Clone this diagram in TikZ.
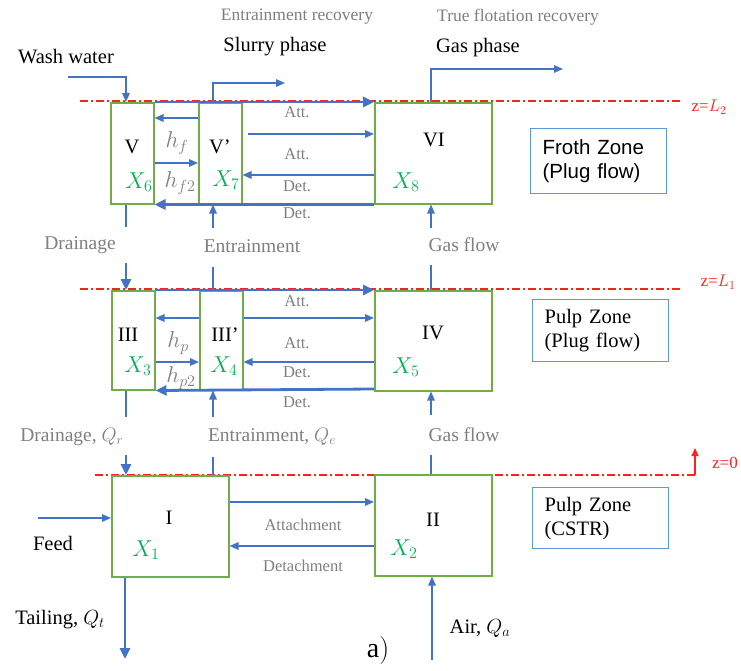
\RequirePackage{fix-cm}
\documentclass[tikz,border=0pt]{standalone}
\usepackage{fontspec}
\setmainfont{Liberation Serif}
\setsansfont{Liberation Sans}
\usetikzlibrary{arrows.meta}
\definecolor{ablue}{HTML}{4472C4}
\definecolor{bgreen}{HTML}{70AD47}
\definecolor{tgreen}{HTML}{00B050}
\definecolor{zred}{HTML}{FF2020}
\definecolor{zboxc}{HTML}{5B9BD5}
\definecolor{lgrey}{HTML}{7F7F7F}
\newcommand{\szBlack}{\fontsize{20.5}{24}\selectfont}
\newcommand{\szMath}{\fontsize{23}{26}\selectfont}
\newcommand{\szGreyA}{\fontsize{17.5}{20}\selectfont}
\newcommand{\szGreyB}{\fontsize{19.5}{22}\selectfont}
\newcommand{\szSmall}{\fontsize{16.5}{19}\selectfont}
\newcommand{\szRed}{\fontsize{17}{20}\selectfont}
\newcommand{\szBig}{\fontsize{28}{32}\selectfont}
\begin{document}
\begin{tikzpicture}[x=1pt,y=-1pt,
  gbox/.style={draw=bgreen, line width=1.5pt, inner sep=0pt, anchor=north west, minimum width=43pt, minimum height=101pt},
  wbox/.style={draw=bgreen, line width=1.5pt, inner sep=0pt, anchor=north west, minimum width=117pt, minimum height=101pt},
  zonebox/.style={draw=zboxc, line width=1.2pt, anchor=north west, minimum width=136pt, text width=112pt, inner xsep=12pt, align=left},
  arr/.style={draw=ablue, line width=1.4pt, -{Triangle[length=9pt,width=7.5pt]}},
  tarr/.style={draw=ablue, line width=2.8pt, -{Triangle[length=11pt,width=10pt]}},
  aline/.style={draw=ablue, line width=1.4pt},
  tline/.style={draw=ablue, line width=2.8pt},
  zline/.style={draw=zred, line width=1.1pt, dash pattern=on 8pt off 3pt on 2pt off 3pt},
  blab/.style={inner sep=0pt, font=\szBlack, text=black},
  glabA/.style={inner sep=0pt, font=\szGreyA, text=lgrey},
  glabB/.style={inner sep=0pt, font=\szGreyB, text=lgrey},
  hlab/.style={inner sep=0pt, font=\szMath, text=lgrey},
  slab/.style={inner sep=0pt, font=\szSmall, text=lgrey},
  xlab/.style={inner sep=0pt, font=\szMath, text=tgreen},
  rlab/.style={inner sep=0pt, font=\szRed, text=zred}]
\useasboundingbox (0,0) rectangle (741,670);

% red level lines
\draw[zline] (80,101) -- (680,101);
\draw[zline] (80,289) -- (680,289);
\draw[zline] (95,475) -- (695,475);
\coordinate (z0a) at (695,475);
\coordinate (z0b) at (695,448);
\draw[draw=zred, line width=1.2pt, -{Triangle[length=8pt,width=7pt]}] (z0a) -- (z0b);
\node[rlab] (zL2) at (709,107) {z=$L_2$};
\node[rlab] (zL1) at (718,282) {z=$L_1$};
\node[rlab] (z0) at (725,463) {z=0};

% boxes
\node[gbox] (V) at (110,102) {};
\node[gbox] (Vp) at (198,102) {};
\node[wbox] (VI) at (374,102) {};
\node[gbox, minimum height=99pt] (III) at (111,290) {};
\node[gbox, minimum height=99pt] (IIIp) at (199,290) {};
\node[wbox, minimum height=100pt] (IV) at (374,290) {};
\node[wbox] (I) at (111,475) {};
\node[wbox] (II) at (374,474) {};

% zone boxes
\node[zonebox, minimum height=65pt, font=\sffamily\szBlack] (FZ) at (530,128) {Froth Zone\\(Plug flow)};
\node[zonebox, minimum height=62pt, font=\szBlack] (PZ) at (532,299) {Pulp Zone\\(Plug flow)};
\node[zonebox, minimum height=61pt, font=\szBlack] (CZ) at (532,487) {Pulp Zone\\(CSTR)};

% box labels
\node[blab] (lV) at (132,147) {V};
\node[blab] (lVp) at (220,147) {V’};
\node[blab] (lVI) at (434,140) {VI};
\node[xlab] (x6) at (139,182) {$X_6$};
\node[xlab] (x7) at (226,180) {$X_7$};
\node[xlab] (x8) at (406,182) {$X_8$};
\node[blab] (lIII) at (128,335) {III};
\node[blab] (lIIIp) at (225,335) {III’};
\node[blab] (lIV) at (433,333) {IV};
\node[xlab] (x3) at (138,366) {$X_3$};
\node[xlab] (x4) at (224,366) {$X_4$};
\node[xlab] (x5) at (406,367) {$X_5$};
\node[blab] (lI) at (169,518) {I};
\node[blab] (lII) at (433,520) {II};
\node[xlab] (x1) at (146,550) {$X_1$};
\node[xlab] (x2) at (404,549) {$X_2$};

% top labels
\node[glabA] (entrec) at (297,17) {Entrainment recovery};
\node[glabA] (truerec) at (518,17) {True flotation recovery};
\node[blab] (slurry) at (275,47) {Slurry phase};
\node[blab] (gasph) at (478,48) {Gas phase};
\node[blab] (wash) at (66,57) {Wash water};

% froth zone connectors
\coordinate (wwS) at (68,77);
\coordinate (wwC) at (126,77);
\draw[arr] (wwS) -- (wwC) -- (wwC |- V.north);
\coordinate (slA) at (213,83);
\coordinate (slE) at (285,83);
\draw[arr] (slA |- Vp.north) -- (slA) -- (slE);
\coordinate (gpE) at (563,69);
\draw[arr] (VI.north -| 431,0) |- (gpE);
\draw[tarr] (V.north east) -- (VI.north west);
\draw[arr] (Vp.west |- 0,118) -- (V.east |- 0,118);
\draw[arr] (V.east |- 0,163) -- (Vp.west |- 0,163);
\draw[arr] ([xshift=5pt]Vp.east |- 0,134) -- (VI.west |- 0,134);
\draw[arr] (VI.west |- 0,175) -- (Vp.east |- 0,175);
\draw[tarr] (VI.south west) -- (V.south east);
\node[slab] (att1) at (297,112) {Att.};
\node[slab] (att2) at (297,154) {Att.};
\node[slab] (det1) at (297,186) {Det.};
\node[slab] (det2) at (297,213) {Det.};
\node[hlab] (hf) at (177,143) {$h_f$};
\node[hlab] (hf2) at (180,183) {$h_{f2}$};

% between froth and pulp
\coordinate (d1) at (126,227);
\draw[tline] (d1 |- V.south) -- (d1);
\coordinate (d2) at (126,263);
\draw[tarr] (d2) -- (d2 |- III.north);
\coordinate (e1) at (213,228);
\draw[arr] (e1) -- (e1 |- Vp.south);
\coordinate (e2) at (213,267);
\draw[aline] (e2) -- (e2 |- IIIp.north);
\coordinate (g1) at (431,228);
\draw[arr] (g1) -- (g1 |- VI.south);
\coordinate (g2) at (431,265);
\draw[aline] (g2) -- (g2 |- IV.north);
\node[glabB] (drain1) at (80,245) {Drainage};
\node[glabB] (entr1) at (252,246) {Entrainment};
\node[glabB] (gas1) at (464,245) {Gas flow};

% pulp plug zone connectors
\draw[tarr] (III.north east) -- (IV.north west);
\draw[arr] (IIIp.west |- 0,318) -- (III.east |- 0,318);
\draw[arr] (IIIp.east |- 0,318) -- (IV.west |- 0,318);
\draw[arr] (III.east |- 0,362) -- (IIIp.west |- 0,362);
\draw[arr] (IV.west |- 0,362) -- (IIIp.east |- 0,362);
\draw[tarr] (IV.west |- 0,389) -- (III.south east);
\node[slab] (att3) at (297,301) {Att.};
\node[slab] (att4) at (297,343) {Att.};
\node[slab] (det3) at (297,372) {Det.};
\node[slab] (det4) at (297,402) {Det.};
\node[hlab] (hp) at (178,343) {$h_p$};
\node[hlab] (hp2) at (181,378) {$h_{p2}$};

% between pulp plug and CSTR
\coordinate (d3) at (126,417);
\draw[tline] (d3 |- III.south) -- (d3);
\coordinate (d4) at (126,455);
\draw[tarr] (d4) -- (d4 |- I.north);
\coordinate (e3) at (213,417);
\draw[arr] (e3) -- (e3 |- IIIp.south);
\coordinate (e4) at (213,457);
\draw[aline] (e4) -- (e4 |- I.north);
\coordinate (g3) at (431,415);
\draw[arr] (g3) -- (g3 |- IV.south);
\coordinate (g4) at (431,455);
\draw[aline] (g4) -- (g4 |- II.north);
\node[glabB] (drain2) at (72,437) {Drainage, $Q_r$};
\node[glabB] (entr2) at (272,437) {Entrainment, $Q_e$};
\node[glabB] (gas2) at (464,435) {Gas flow};

% CSTR connectors
\draw[arr] (I.east |- 0,502) -- (II.west |- 0,502);
\draw[arr] (II.west |- 0,546) -- (I.east |- 0,546);
\node[slab] (attach) at (303,525) {Attachment};
\node[slab] (detach) at (303,566) {Detachment};
\coordinate (fd) at (38,518);
\draw[arr] (fd) -- (fd -| I.west);
\node[blab] (feed) at (53,543) {Feed};
\coordinate (tl) at (125,659);
\draw[tarr] (tl |- I.south) -- (tl);
\node[blab] (tail) at (60,620) {Tailing, $Q_t$};
\coordinate (air) at (432,660);
\draw[arr] (air) -- (air |- II.south);
\node[blab] (airl) at (480,628) {Air, $Q_a$};
\node[inner sep=0pt, font=\szBig] (cap) at (378,650) {$\mathrm{a)}$};
\end{tikzpicture}
\end{document}
